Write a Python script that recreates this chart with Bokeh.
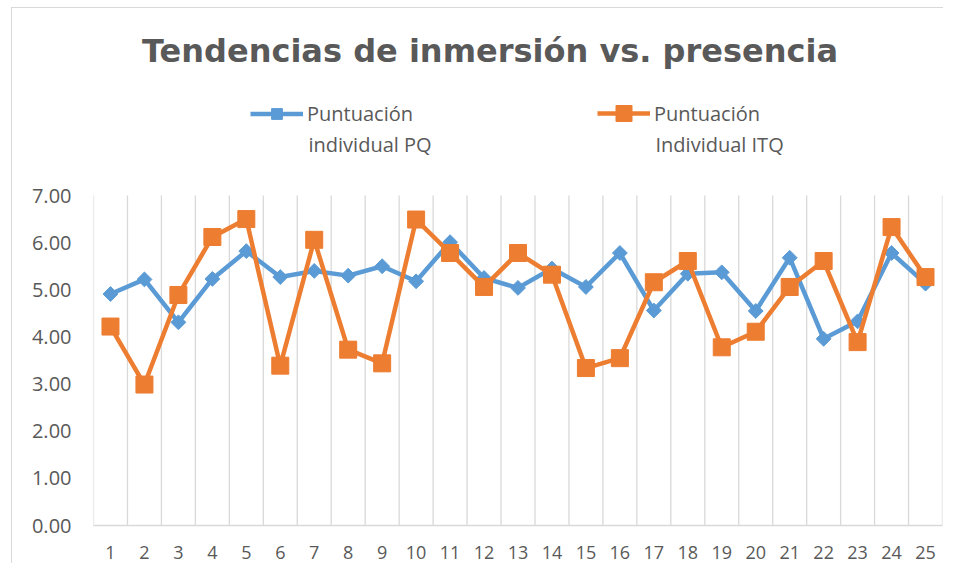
from bokeh.plotting import figure
from bokeh.models import (ColumnDataSource, FixedTicker, NumeralTickFormatter,
                          Range1d, Label, Legend, LegendItem)
from bokeh.embed import file_html
from bokeh.resources import INLINE
import math

# ---- data ----
participants = list(range(1, 26))
pq_scores = [4.91, 5.22, 4.31, 5.23, 5.82, 5.27, 5.40, 5.30, 5.50, 5.18,
             6.01, 5.25, 5.04, 5.45, 5.06, 5.78, 4.56, 5.34, 5.37, 4.55,
             5.68, 3.96, 4.33, 5.78, 5.13]
itq_scores = [4.22, 2.99, 4.89, 6.12, 6.50, 3.39, 6.06, 3.73, 3.44, 6.49,
              5.78, 5.06, 5.78, 5.32, 3.34, 3.55, 5.16, 5.61, 3.78, 4.11,
              5.06, 5.61, 3.89, 6.33, 5.27]
y_ticks = [0, 1, 2, 3, 4, 5, 6, 7]
y_max = 7
title_text = "Tendencias de inmersión vs. presencia"
pq_name = ["Puntuación", "individual PQ"]
itq_name = ["Puntuación", "Individual ITQ"]

BLUE = "#5B9BD5"
ORANGE = "#ED7D31"
TEXT = "#595959"
GRID = "#D9D9D9"
FONT = "Open Sans"

# layout (pixels)
W, H = 943, 563
FRAME_BOTTOM = 525          # canvas y of value 0
PLOT_H = 330                # pixel height from 0 to y_max
y_top = y_max * FRAME_BOTTOM / PLOT_H   # frame reaches the canvas top

src = ColumnDataSource(dict(x=participants, pq=pq_scores, itq=itq_scores))
bounds = [c - 0.5 for c in participants] + [participants[-1] + 0.5]
grid_src = ColumnDataSource(dict(x=bounds, y0=[0] * len(bounds),
                                 y1=[y_max] * len(bounds)))

p = figure(width=W, height=H, output_backend="svg", toolbar_location=None,
           x_range=Range1d(0.5, 25.5), y_range=Range1d(0, y_top),
           min_border_left=93, min_border_right=1, min_border_top=0,
           min_border_bottom=H - FRAME_BOTTOM, background_fill_color="white",
           border_fill_color="white")
p.stylesheets = [":host::after { content: ''; position: absolute; left: 11px; top: 7px;"
                 " right: 0; bottom: 0; border-left: 1px solid #D9D9D9;"
                 " border-top: 1px solid #D9D9D9; pointer-events: none; }"]
p.outline_line_color = None
p.title.visible = False
p.xgrid.grid_line_color = None
p.ygrid.grid_line_color = None

# vertical grid lines at category boundaries (plot area only)
p.segment(x0="x", y0="y0", x1="x", y1="y1", source=grid_src,
          line_color=GRID, line_width=1.3)

# axes
p.xaxis.ticker = FixedTicker(ticks=participants)
p.xaxis.axis_line_color = GRID
p.xaxis.axis_line_width = 1.6
p.xaxis.major_tick_line_color = None
p.xaxis.minor_tick_line_color = None
p.xaxis.major_label_standoff = 14
p.xaxis.major_label_text_font = FONT
p.xaxis.major_label_text_font_size = "18px"
p.xaxis.major_label_text_color = TEXT

p.yaxis.ticker = FixedTicker(ticks=y_ticks)
p.yaxis.formatter = NumeralTickFormatter(format="0.00")
p.yaxis.axis_line_color = None
p.yaxis.major_tick_line_color = None
p.yaxis.minor_tick_line_color = None
p.yaxis.major_label_standoff = 16
p.yaxis.major_label_text_font = FONT
p.yaxis.major_label_text_font_size = "20px"
p.yaxis.major_label_text_color = TEXT

# series
pq_line = p.line("x", "pq", source=src, line_color=BLUE, line_width=4.5)
pq_mark = p.scatter("x", "pq", source=src, marker="square", angle=math.pi / 4,
                    size=10.5, fill_color=BLUE, line_color=BLUE)
itq_line = p.line("x", "itq", source=src, line_color=ORANGE, line_width=4.5)
itq_mark = p.scatter("x", "itq", source=src, marker="square", size=17,
                     fill_color=ORANGE, line_color=ORANGE)

# legends (one per series, placed manually)
def make_legend(renderers, label, vx, cy, gh):
    lg = Legend(items=[LegendItem(label=label, renderers=renderers)],
                location=(vx, cy - gh / 2), orientation="horizontal",
                glyph_width=53, glyph_height=gh, label_height=gh,
                label_standoff=4, padding=0, margin=0, spacing=0,
                border_line_color=None, background_fill_alpha=0,
                label_text_font=FONT, label_text_font_size="20px",
                label_text_color=TEXT, label_text_baseline="middle")
    p.add_layout(lg, "center")

make_legend([pq_line, pq_mark], pq_name[0], 157, 412, 27)
make_legend([itq_line, itq_mark], itq_name[0], 504, 412, 40)

p.add_layout(Label(x=215, y=381, x_units="screen", y_units="screen",
                   text=pq_name[1], text_font=FONT, text_font_size="20px",
                   text_color=TEXT, text_baseline="alphabetic", text_align="left"))
p.add_layout(Label(x=562, y=381, x_units="screen", y_units="screen",
                   text=itq_name[1], text_font=FONT, text_font_size="20px",
                   text_color=TEXT, text_baseline="alphabetic", text_align="left"))

# title
p.add_layout(Label(x=396.5, y=475, x_units="screen", y_units="screen",
                   text=title_text, text_font="DejaVu Sans", text_font_size="32px",
                   text_font_style="bold", text_color=TEXT,
                   text_baseline="alphabetic", text_align="center"))

open("out.html", "w").write(file_html(p, INLINE))
